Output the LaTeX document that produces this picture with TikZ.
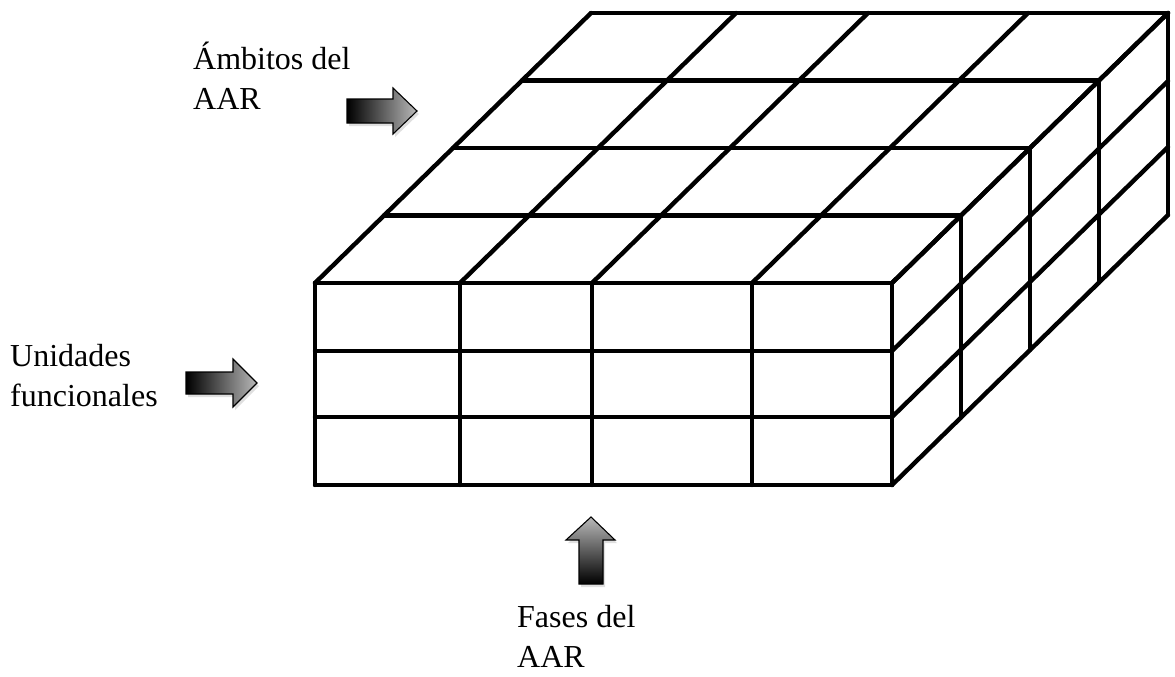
\documentclass[tikz,border=0pt]{standalone}
\usepackage{fontspec}
\setmainfont{Liberation Serif}
\usetikzlibrary{shadows}
\begin{document}
\begin{tikzpicture}[x=1pt,y=-1pt,
  gridline/.style={line width=4.4pt, line cap=round, line join=round},
  label/.style={font=\fontsize{32}{40}\selectfont, align=left, anchor=base west, inner sep=0pt},
  fatarrow/.style={draw=black, line width=1.1pt, line join=miter,
    drop shadow={opacity=0.25, shadow xshift=2pt, shadow yshift=-3pt}},
]
\useasboundingbox (0,0) rectangle (1175,677);

% front face of the block: 4 columns x 3 rows
\def\cols{315,460,592,752,892}
\def\rows{283,351,417,485}
\foreach \y in \rows \draw[gridline] (315,\y) -- (892,\y);
\foreach \x in \cols \draw[gridline] (\x,283) -- (\x,485);

% top face: layer edges and receding column lines
\foreach \k in {0,...,4}
  \draw[gridline] ({315+69*\k},{283-67.5*\k}) -- ({892+69*\k},{283-67.5*\k});
\foreach \x in \cols \draw[gridline] (\x,283) -- ({\x+276},13);

% right face: layer verticals and receding row lines
\foreach \k in {0,...,4}
  \draw[gridline] ({892+69*\k},{283-67.5*\k}) -- ({892+69*\k},{485-67.5*\k});
\foreach \y in \rows \draw[gridline] (892,\y) -- (1168,{\y-270});

% axis labels (anchored on the baseline of their last line)
\node[label] (ambitos) at (193,110) {Ámbitos del\\AAR};
\node[label] (unidades) at (10,406) {Unidades\\funcionales};
\node[label] (fases) at (517,667) {Fases del\\AAR};

% block arrows with grey shading
\shade[fatarrow, left color=black, right color=gray!55]
  (347,99) -- (393,99) -- (393,88) -- (417,111) -- (393,134) -- (393,123) -- (347,123) -- cycle;
\shade[fatarrow, left color=black, right color=gray!55]
  (186,372) -- (233,372) -- (233,359) -- (257,383) -- (233,407) -- (233,394) -- (186,394) -- cycle;
\shade[fatarrow, top color=gray!55, bottom color=black]
  (579,584) -- (579,540) -- (566,540) -- (591,517) -- (615,540) -- (603,540) -- (603,584) -- cycle;
\end{tikzpicture}
\end{document}
